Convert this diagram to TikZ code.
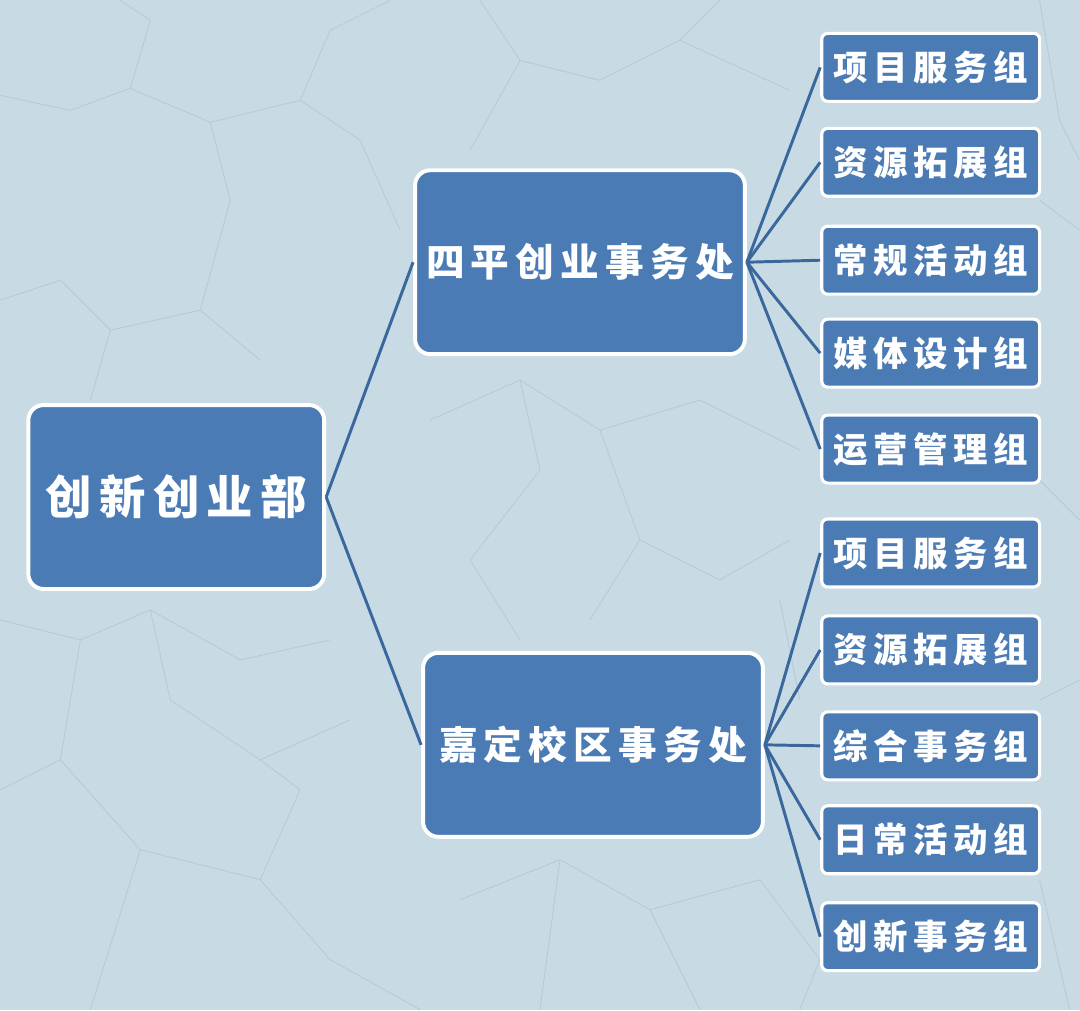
\documentclass[tikz,border=0pt]{standalone}
\usepackage{fontspec}
\usepackage{tikz}
\newfontfamily\cjk[LetterSpace=16]{Noto Sans CJK SC}
\definecolor{bgblue}{HTML}{C8DBE5}
\definecolor{crack}{HTML}{B6CAD6}
\definecolor{boxblue}{HTML}{4A7BB5}
\definecolor{linkblue}{HTML}{3A679C}

\begin{document}
\begin{tikzpicture}[x=0.025cm,y=-0.025cm,
    unit/.style={draw=white,fill=boxblue,line width=2.8pt,rounded corners=0.38cm,
      text=white,inner sep=0pt,align=center},
    rootbox/.style={unit,minimum width=7.4cm,minimum height=4.6cm,
      font=\cjk\bfseries\fontsize{33pt}{37pt}\selectfont},
    officebox/.style={unit,minimum height=4.6cm,
      font=\cjk\bfseries\fontsize{27.5pt}{31pt}\selectfont},
    groupbox/.style={unit,minimum width=5.45cm,minimum height=1.7cm,rounded corners=0.15cm,
      line width=2.2pt,font=\cjk\bfseries\fontsize{24.5pt}{28pt}\selectfont},
    link/.style={draw=linkblue,line width=2.1pt}]
    % background with a few cracks
    \fill[bgblue] (0,0) rectangle (1080,1010);
    \draw[crack,line width=0.6pt]
      (0,95) -- (70,110) -- (130,88) -- (210,122) -- (300,100) -- (360,140)
      (130,88) -- (150,20) -- (120,0)
      (300,100) -- (330,30) -- (390,0)
      (0,300) -- (60,280) -- (110,330) -- (200,310) -- (260,360)
      (110,330) -- (90,400)
      (200,310) -- (230,200) -- (210,122)
      (360,140) -- (400,230)
      (0,620) -- (80,640) -- (150,610) -- (240,660) -- (330,640)
      (80,640) -- (60,760) -- (0,790)
      (150,610) -- (170,700) -- (260,760) -- (350,720)
      (60,760) -- (140,850) -- (90,1010)
      (140,850) -- (260,880) -- (330,960) -- (420,1010)
      (260,880) -- (300,790) -- (260,760)
      (480,0) -- (520,60) -- (600,80) -- (680,40) -- (720,0)
      (520,60) -- (470,150)
      (680,40) -- (790,90)
      (430,420) -- (520,380) -- (600,430) -- (700,400) -- (800,450)
      (520,380) -- (540,470) -- (470,560) -- (520,640)
      (600,430) -- (640,540) -- (720,580) -- (790,540)
      (640,540) -- (590,620)
      (780,600) -- (800,700)
      (460,900) -- (560,860) -- (650,910) -- (760,880) -- (820,960) -- (800,1010)
      (560,860) -- (540,1010)
      (650,910) -- (700,1010)
      (1040,0) -- (1060,120) -- (1080,160)
      (1040,200) -- (1080,230)
      (1040,480) -- (1080,520)
      (1040,700) -- (1080,680)
      (1040,880) -- (1070,1010);

    % main boxes
    \node[rootbox] (cxcyb) at (176,497) {创新创业部};
    \node[officebox,minimum width=8.25cm] (sp) at (580,262) {四平创业事务处};
    \node[officebox,minimum width=8.5cm] (jd) at (593,745) {嘉定校区事务处};

    % groups
    \foreach \n/\y/\t in {1/67/项目服务组,2/162/资源拓展组,3/260/常规活动组,
                          4/353/媒体设计组,5/449/运营管理组}{
      \node[groupbox] (sp\n) at (931,\y) {\t};
      \draw[link] (sp.east) -- (sp\n.west);
    }
    \foreach \n/\y/\t in {1/553/项目服务组,2/650/资源拓展组,3/746/综合事务组,
                          4/840/日常活动组,5/937/创新事务组}{
      \node[groupbox] (jd\n) at (931,\y) {\t};
      \draw[link] (jd.east) -- (jd\n.west);
    }

    \draw[link] (cxcyb.east) -- (sp.west);
    \draw[link] (cxcyb.east) -- (jd.west);
  \end{tikzpicture}
\end{document}
